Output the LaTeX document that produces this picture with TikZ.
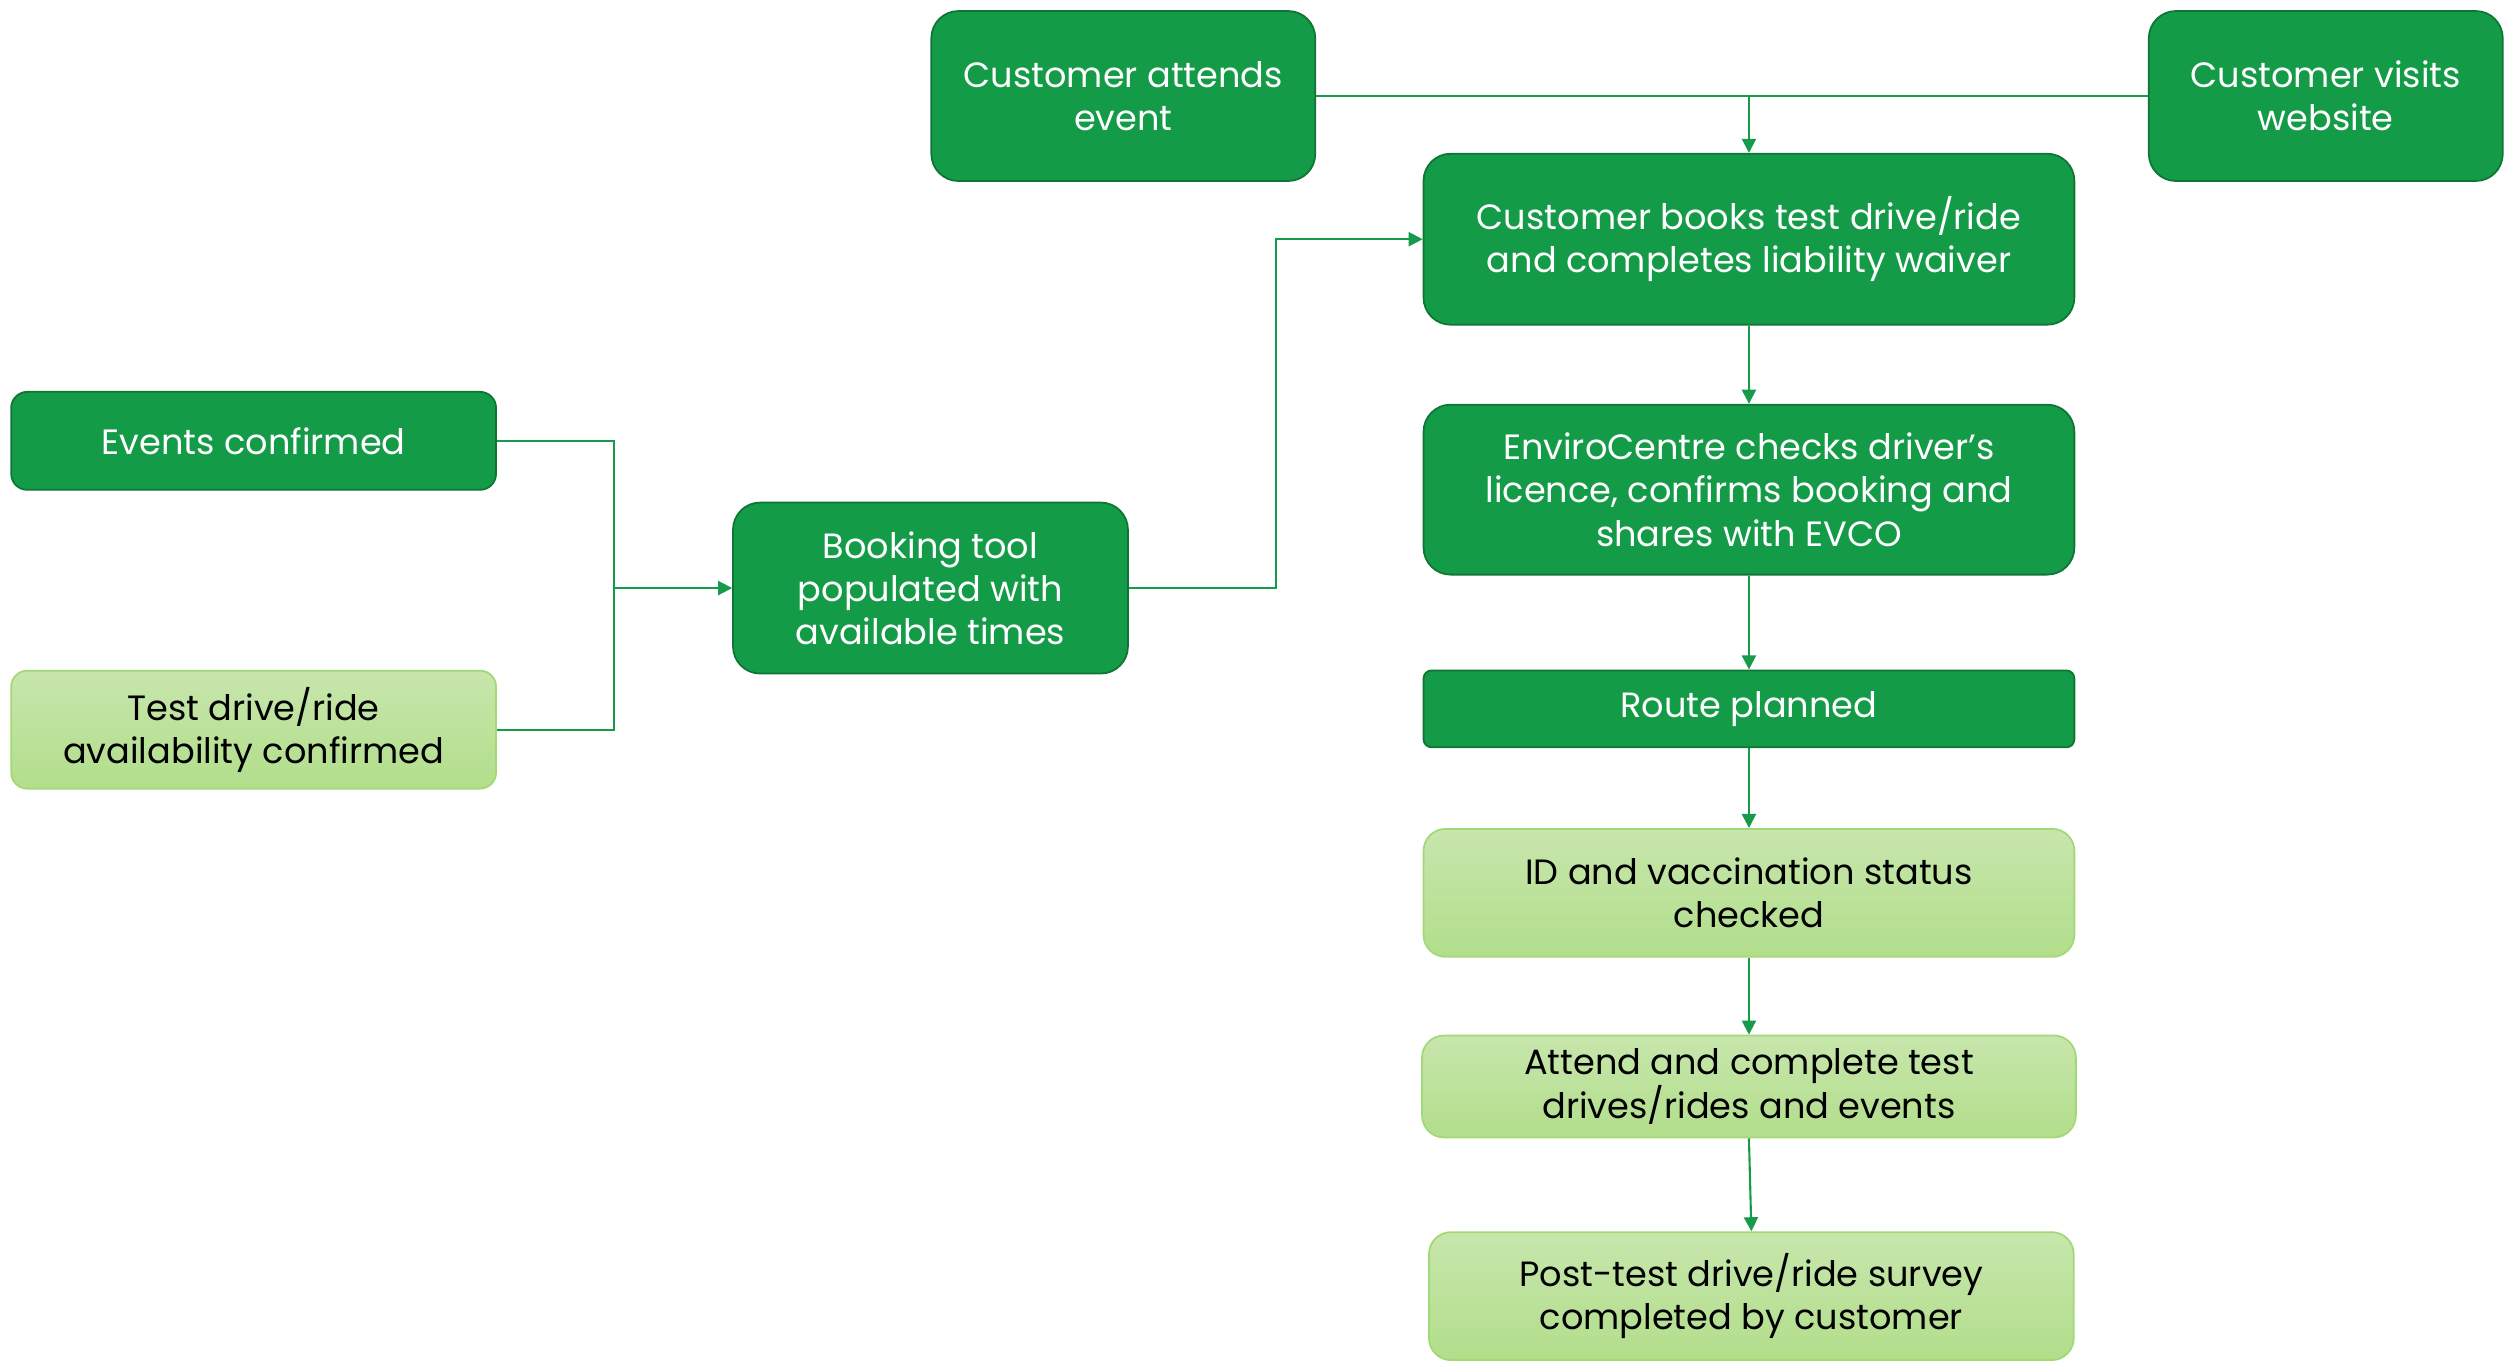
\documentclass[tikz,border=0pt]{standalone}
\usepackage{fontspec}
\setmainfont{Poppins}
\usetikzlibrary{arrows.meta}
\definecolor{darkgreen}{HTML}{149B48}
\definecolor{darkedge}{HTML}{0F7535}
\definecolor{lighttop}{HTML}{C7E6AC}
\definecolor{lightbottom}{HTML}{B2DE8B}
\definecolor{lightedge}{HTML}{A3D877}
\definecolor{linegreen}{HTML}{159B4A}
\tikzset{
  every node/.style={font=\fontsize{10}{12.3}\selectfont},
  darkbox/.style={draw=darkedge, line width=0.5pt, fill=darkgreen, text=white,
    rounded corners=0.27cm, align=center, inner sep=0pt},
  lightbox/.style={draw=lightedge, line width=0.5pt, top color=lighttop,
    bottom color=lightbottom, text=black, rounded corners=0.22cm, align=center, inner sep=0pt},
  conn/.style={draw=linegreen, line width=0.6pt},
  flow/.style={conn, -{Triangle[length=4pt,width=4pt]}}
}
\begin{document}
\begin{tikzpicture}[x=0.016cm,y=-0.016cm]
  \useasboundingbox (0,0) rectangle (1568,851);
  % Entry points at the top
  \node[darkbox, minimum width=3.84cm, minimum height=1.70cm] (attend) at (702,60) {Customer attends\\event};
  \node[darkbox, minimum width=3.54cm, minimum height=1.70cm] (website) at (1453.5,60) {Customer visits\\website};
  % Main column
  \node[darkbox, minimum width=6.51cm, minimum height=1.71cm] (books) at (1093,149.5) {Customer books test drive/ride\\and completes liability waiver};
  \node[darkbox, minimum width=6.51cm, minimum height=1.70cm] (checks) at (1093,306) {EnviroCentre checks driver’s\\licence, confirms booking and\\shares with EVCO};
  \node[darkbox, rounded corners=0.08cm, minimum width=6.51cm, minimum height=0.77cm] (route) at (1093,443) {Route planned};
  \node[lightbox, minimum width=6.51cm, minimum height=1.28cm] (idcheck) at (1093,558) {ID and vaccination status\\checked};
  \node[lightbox, minimum width=6.54cm, minimum height=1.02cm] (drives) at (1093,679) {Attend and complete test\\drives/rides and events};
  \node[lightbox, minimum width=6.45cm, minimum height=1.28cm] (survey) at (1094.5,810) {Post-test drive/ride survey\\completed by customer};
  % Left side inputs
  \node[darkbox, rounded corners=0.16cm, minimum width=4.85cm, minimum height=0.98cm] (events) at (158.5,275.5) {Events confirmed};
  \node[lightbox, rounded corners=0.16cm, minimum width=4.85cm, minimum height=1.18cm] (testav) at (158.5,456) {Test drive/ride\\availability confirmed};
  \node[darkbox, minimum width=3.95cm, minimum height=1.71cm] (booking) at (581.5,367.5) {Booking tool\\populated with\\available times};
  % Connectors at the top
  \draw[conn] (attend.east) -- (website.west);
  \coordinate (join) at (books.north |- attend.east);
  \draw[flow] (join) -- (books.north);
  % Down the main column
  \draw[flow] (books) -- (checks);
  \draw[flow] (checks) -- (route);
  \draw[flow] (route) -- (idcheck);
  \draw[flow] (idcheck) -- (drives);
  \draw[flow] (drives.south) -- (survey.north);
  % Inputs into the booking tool
  \path (booking.west) ++(-74,0) coordinate (merge);
  \draw[conn] (events.east) -| (merge);
  \draw[conn] (testav.east) -| (merge);
  \draw[flow] (merge) -- (booking.west);
  \draw[flow] (booking.east) -- ++(92,0) |- (books.west);
\end{tikzpicture}
\end{document}
